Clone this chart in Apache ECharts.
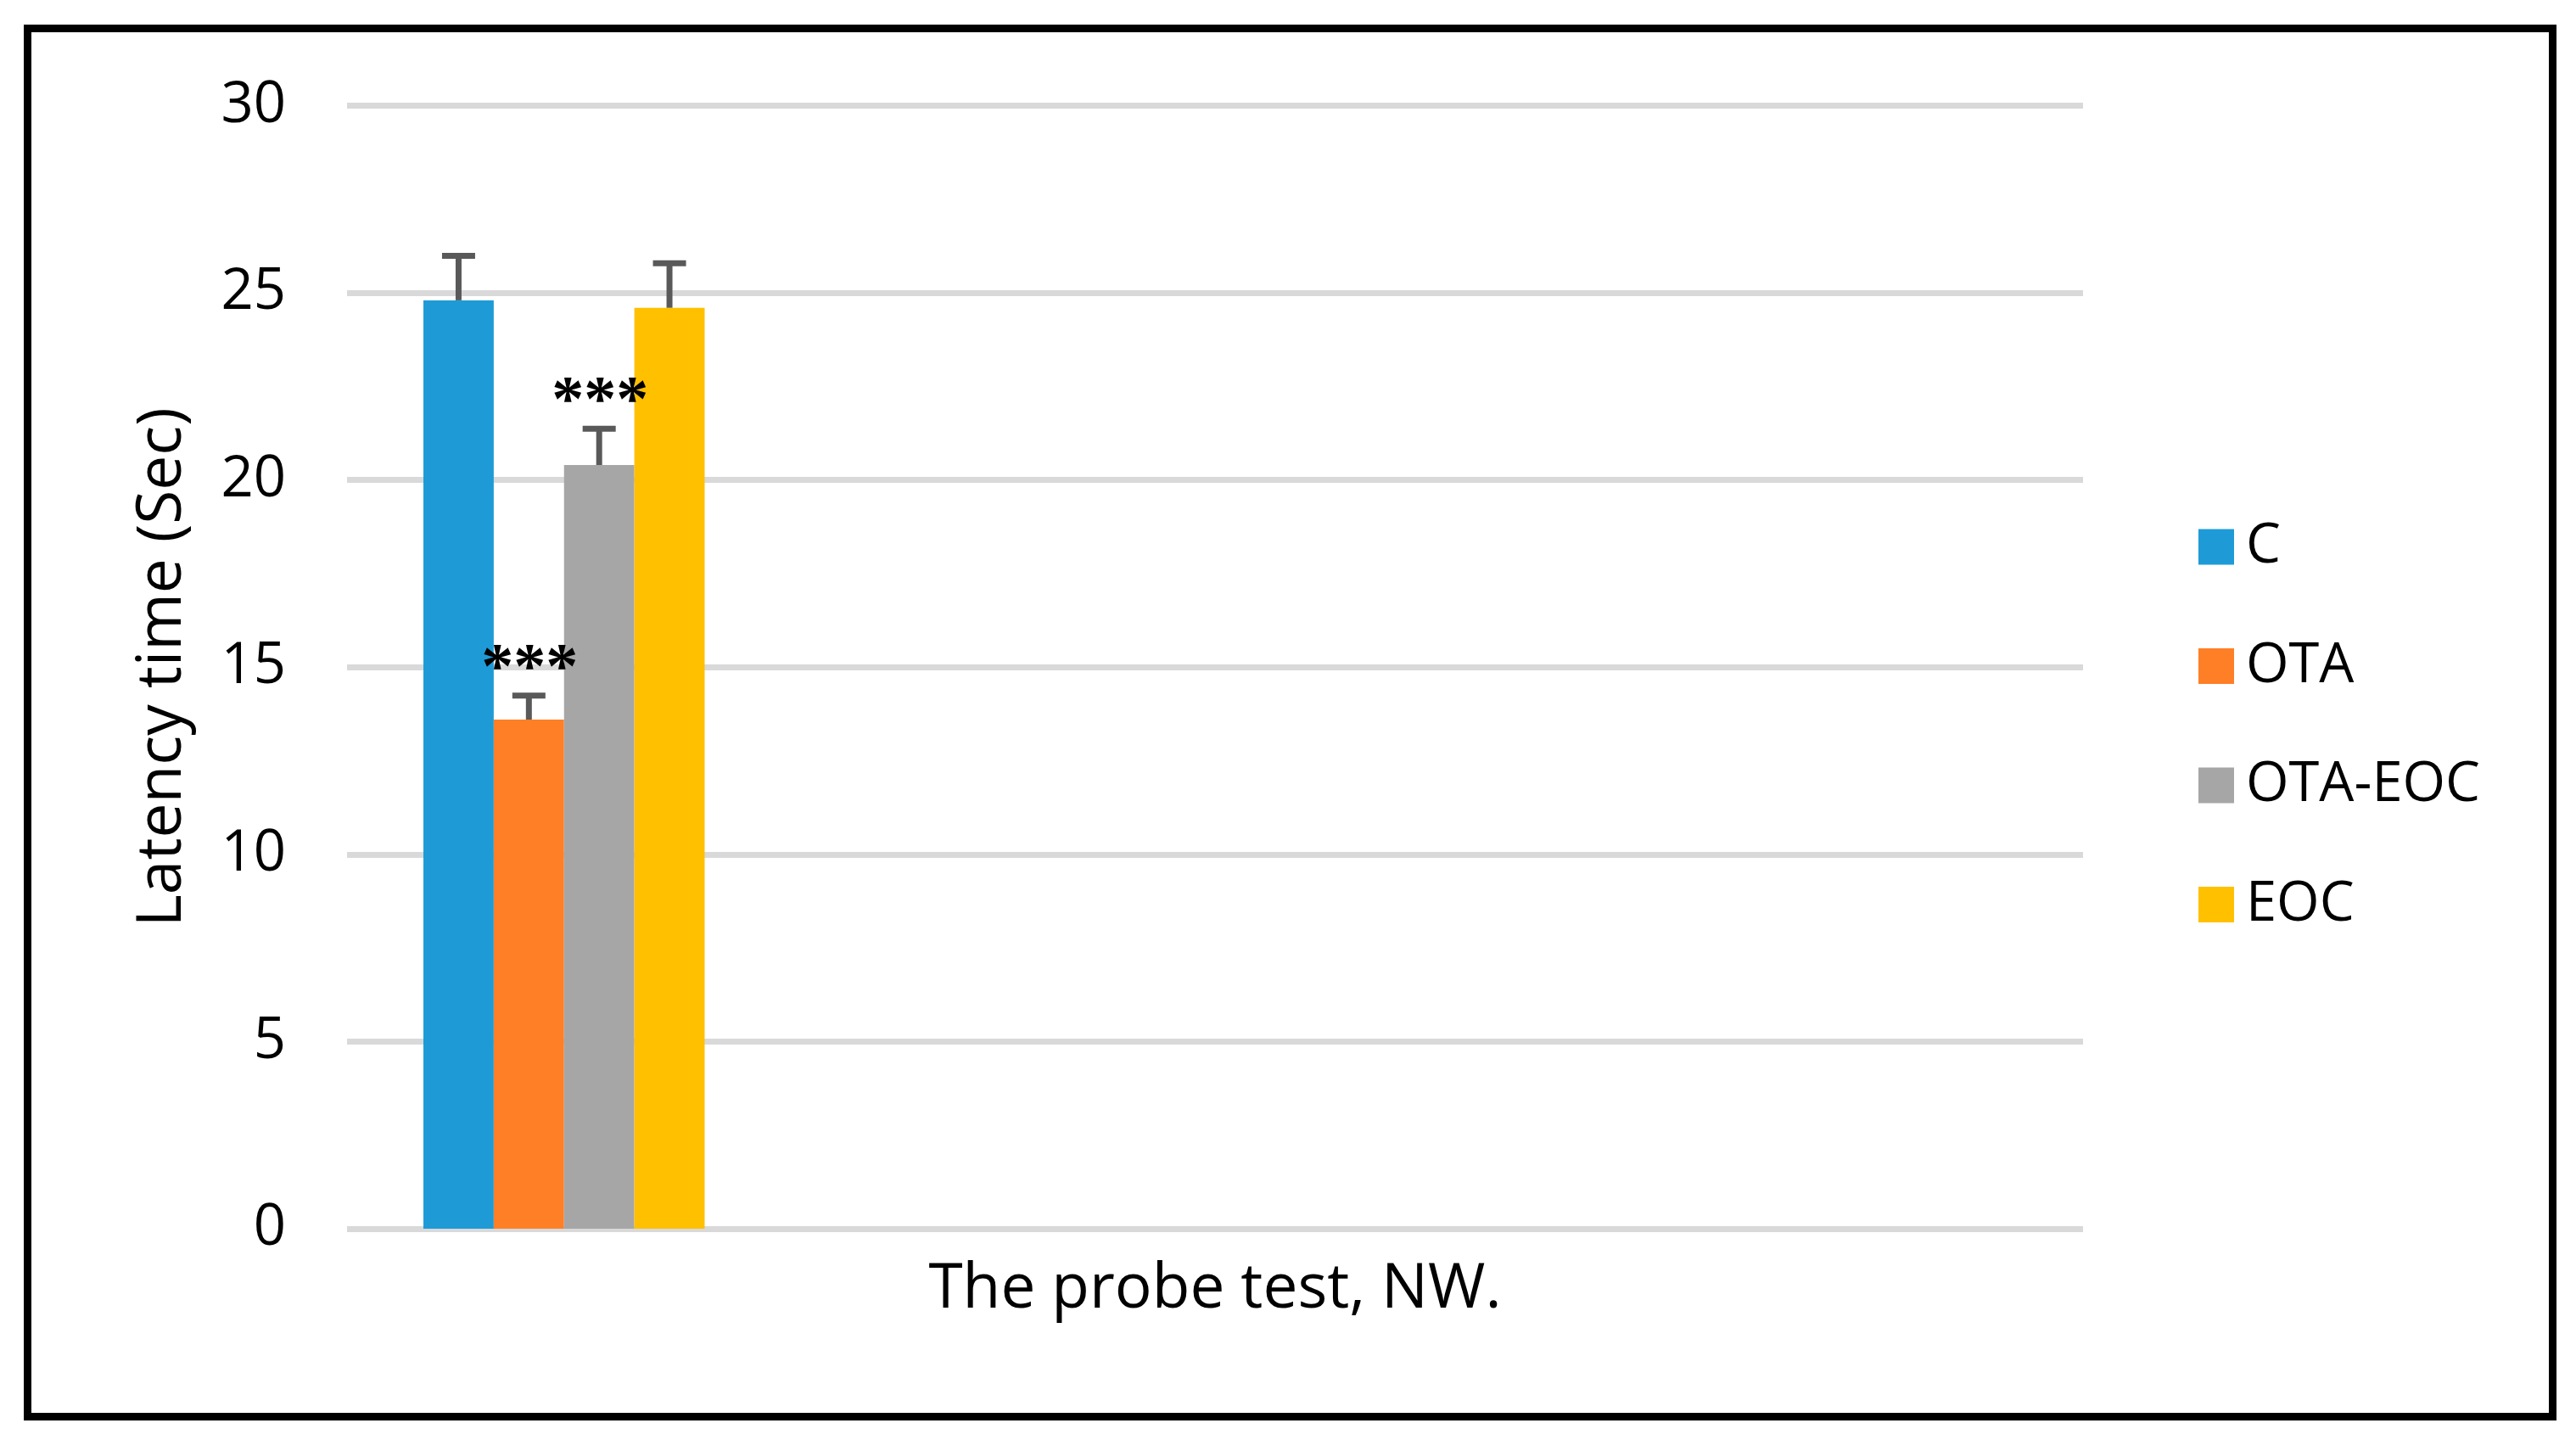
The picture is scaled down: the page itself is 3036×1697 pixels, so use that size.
<!DOCTYPE html>
<html>
<head>
<meta charset="utf-8">
<script src="https://cdn.jsdelivr.net/npm/echarts@6/dist/echarts.min.js"></script>
<style>
html,body{margin:0;padding:0;background:#fff;}
#chart{width:3036px;height:1697px;}
</style>
</head>
<body>
<div id="chart"></div>
<script>
// ---- data ----
const categories = ['The probe test, NW.'];
const groups = ['C', 'OTA', 'OTA-EOC', 'EOC'];
const means = [24.8, 13.6, 20.4, 24.6];
const errors = [1.27, 0.72, 1.05, 1.27];
const significance = ['', '***', '***', ''];
const yTicks = [0, 5, 10, 15, 20, 25, 30];
const colors = ['#1E9BD7', '#FF7F27', '#A6A6A6', '#FFC000'];

const FONT = '"Open Sans", sans-serif';
const BAR_FRAC = 0.162;
const SLOTS = 4;

const chart = echarts.init(document.getElementById('chart'), null, {renderer: 'canvas'});

const barSeries = groups.map((g, i) => ({
  name: g,
  type: 'bar',
  xAxisIndex: 1,
  yAxisIndex: 0,
  data: [means[i]],
  barWidth: (BAR_FRAC * 100) + '%',
  barGap: '0%',
  itemStyle: {color: colors[i]},
  emphasis: {disabled: true},
  z: 2
}));

const errData = groups.map((g, i) => [0, means[i], errors[i], i]);

const errSeries = {
  type: 'custom',
  xAxisIndex: 1,
  yAxisIndex: 0,
  data: errData,
  encode: {x: 0, y: 1},
  z: 5,
  silent: true,
  renderItem: function (params, api) {
    const i = params.dataIndex;
    const v = api.value(1), e = api.value(2);
    const base = api.coord([0, v]);
    const top = api.coord([0, v + e]);
    const bandW = api.size([1, 0])[0];
    const barW = bandW * BAR_FRAC;
    const cx = base[0] + (i - (groups.length - 1) / 2) * barW;
    const stroke = {stroke: '#595959', lineWidth: 7};
    const children = [
      {type: 'line', shape: {x1: cx, y1: base[1], x2: cx, y2: top[1] + 3.5}, style: stroke},
      {type: 'line', shape: {x1: cx - 19.5, y1: top[1] + 3.5, x2: cx + 19.5, y2: top[1] + 3.5}, style: stroke}
    ];
    if (significance[i]) {
      children.push({
        type: 'text',
        style: {
          x: cx + 1, y: top[1] - 26,
          text: significance[i],
          fill: '#000',
          font: 'bold 76px "Liberation Serif", serif',
          textAlign: 'center', textVerticalAlign: 'middle'
        }
      });
    }
    return {type: 'group', children: children};
  }
};

chart.setOption({
  backgroundColor: '#fff',
  animation: false,
  graphic: [{
    type: 'rect',
    shape: {x: 32.5, y: 33.5, width: 2976, height: 1636},
    style: {fill: 'none', stroke: '#000', lineWidth: 9},
    z: 100
  }],
  legend: {
    orient: 'vertical',
    left: 2586,
    top: 607,
    itemWidth: 42,
    itemHeight: 42,
    itemGap: 75.5,
    icon: 'rect',
    data: groups,
    textStyle: {fontFamily: FONT, fontSize: 65, color: '#000', padding: [0, 0, 0, 9]}
  },
  grid: {left: 409, right: 581, top: 124.5, bottom: 249, containLabel: false},
  xAxis: [{
    type: 'category',
    data: categories,
    axisLine: {show: false},
    axisTick: {show: false},
    axisLabel: {fontFamily: FONT, fontSize: 73, color: '#000', margin: 36},
    splitLine: {show: false}
  }, {
    type: 'category',
    data: categories.concat(new Array(SLOTS - categories.length).fill('')),
    show: false,
    axisLine: {show: false},
    axisTick: {show: false},
    axisLabel: {show: false}
  }],
  yAxis: {
    type: 'value',
    min: yTicks[0],
    max: yTicks[yTicks.length - 1],
    interval: yTicks[1] - yTicks[0],
    name: 'Latency time (Sec)',
    nameLocation: 'middle',
    nameGap: 180,
    nameTextStyle: {fontFamily: FONT, fontSize: 73, color: '#000'},
    axisLine: {show: false},
    axisTick: {show: false},
    axisLabel: {fontFamily: FONT, fontSize: 67, color: '#000', margin: 72},
    splitLine: {lineStyle: {color: '#D9D9D9', width: 7}}
  },
  series: barSeries.concat([errSeries])
});
</script>
</body>
</html>
